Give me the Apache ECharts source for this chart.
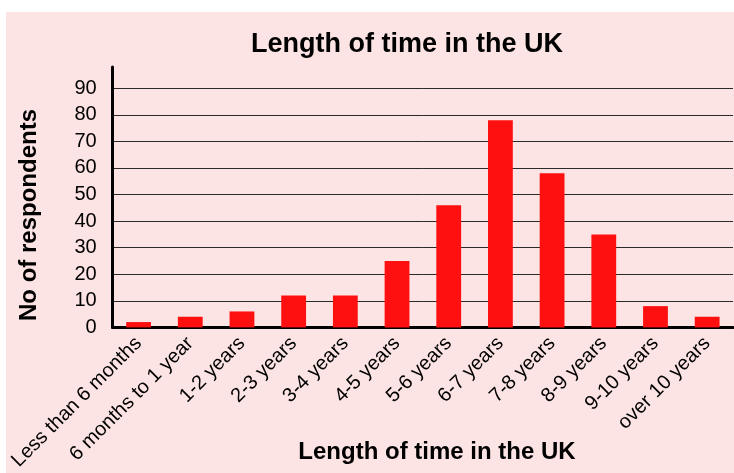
<!DOCTYPE html>
<html>
<head>
<meta charset="utf-8">
<script src="https://cdn.jsdelivr.net/npm/echarts@6/dist/echarts.min.js"></script>
<style>
  html, body { margin: 0; padding: 0; background: #ffffff; }
  #chart { position: absolute; left: 6px; top: 12px; width: 728px; height: 461px; }
</style>
</head>
<body>
<div id="chart"></div>
<script>
// Survey answers: how long respondents have lived in the UK
const categories = [
  'Less than 6 months', '6 months to 1 year', '1-2 years', '2-3 years',
  '3-4 years', '4-5 years', '5-6 years', '6-7 years', '7-8 years',
  '8-9 years', '9-10 years', 'over 10 years'
];
const respondents = [2, 4, 6, 12, 12, 25, 46, 78, 58, 35, 8, 4];

const chartTitle = 'Length of time in the UK';
const yName = 'No of respondents';
const xName = 'Length of time in the UK';

const font = '"Liberation Sans", Arial, Helvetica, sans-serif';
const chart = echarts.init(document.getElementById('chart'));

chart.setOption({
  backgroundColor: '#fde4e4',
  animation: false,
  title: {
    text: chartTitle,
    left: 396,
    top: 14,
    textAlign: 'center',
    textStyle: { fontFamily: font, fontWeight: 'bold', fontSize: 27, color: '#000' }
  },
  grid: { left: 106, right: 1, top: 55, bottom: 142, containLabel: false },
  xAxis: {
    type: 'category',
    data: categories,
    axisLine: { show: true, lineStyle: { color: '#000', width: 3 } },
    axisTick: { show: false },
    axisLabel: {
      interval: 0,
      rotate: 45,
      margin: 13,
      fontFamily: font,
      fontSize: 20,
      color: '#000'
    },
    splitLine: { show: false }
  },
  yAxis: {
    type: 'value',
    min: 0,
    max: 98,
    interval: 10,
    axisLine: { show: true, lineStyle: { color: '#000', width: 3 } },
    axisTick: { show: false },
    axisLabel: {
      margin: 16,
      fontFamily: font,
      fontSize: 20,
      color: '#000',
      showMaxLabel: false,
      formatter: v => (v % 10 === 0 ? String(v) : '')
    },
    splitLine: { show: true, showMaxLine: false, lineStyle: { color: '#2a2a2a', width: 1 } }
  },
  series: [{
    type: 'bar',
    data: respondents,
    barWidth: '48%',
    itemStyle: { color: '#fe1010' }
  }],
  graphic: [
    {
      // vertical axis title, reading bottom to top
      type: 'text',
      x: 23,
      y: 203,
      rotation: Math.PI / 2,
      style: {
        text: yName,
        x: 0, y: 0,
        align: 'center',
        verticalAlign: 'middle',
        font: 'bold 24px ' + font,
        fill: '#000'
      }
    },
    {
      type: 'text',
      style: {
        text: xName,
        x: 431, y: 440,
        align: 'center',
        verticalAlign: 'middle',
        font: 'bold 24px ' + font,
        fill: '#000'
      }
    }
  ]
});
</script>
</body>
</html>
